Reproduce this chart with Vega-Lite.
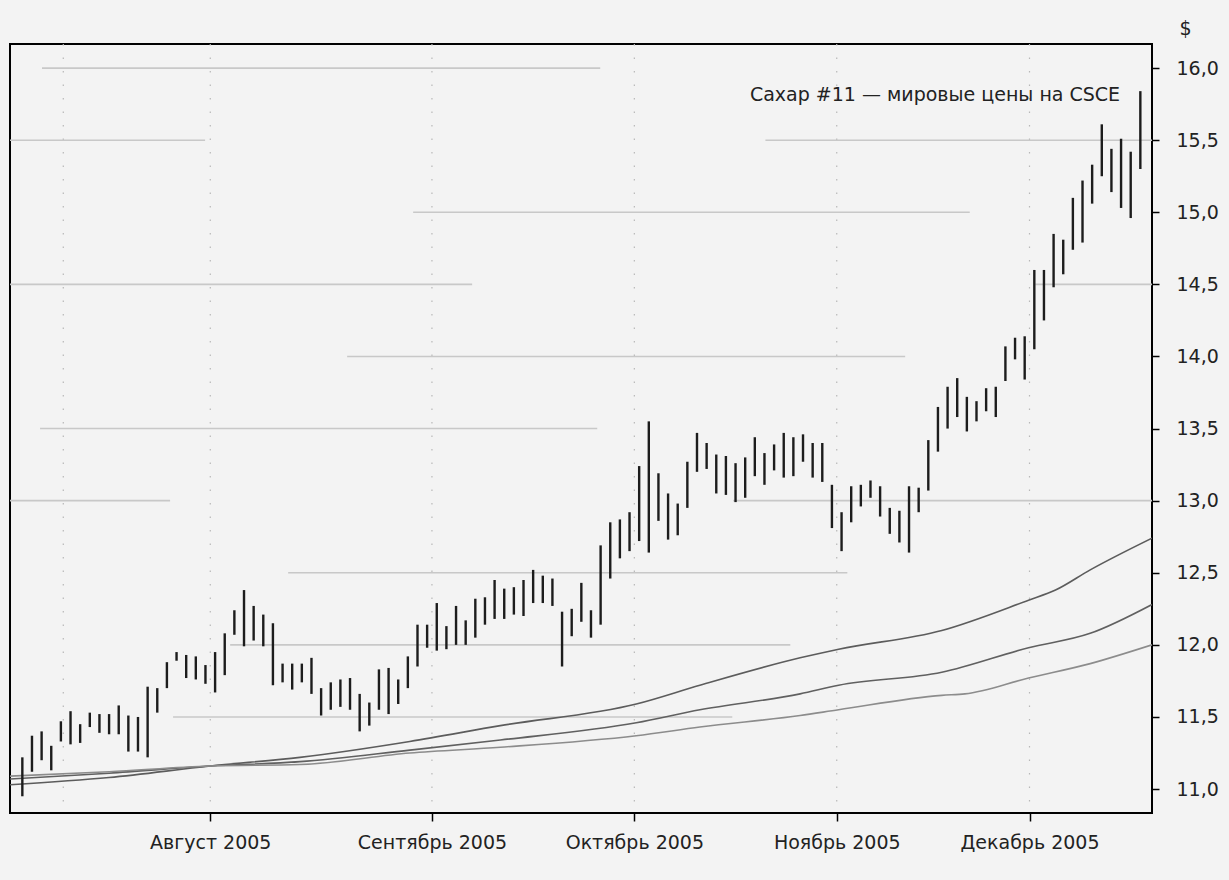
{
  "$schema": "https://vega.github.io/schema/vega-lite/v6.json",
  "width": 1142,
  "height": 769,
  "autosize": "none",
  "padding": {"left": 10, "top": 44, "right": 77, "bottom": 67},
  "background": "#f3f3f3",
  "config": {
    "view": {"stroke": "#000000", "strokeWidth": 2, "fill": "#f3f3f3"},
    "font": "DejaVu Sans"
  },
  "datasets": {
    "bars": [
      {"i":0,"lo":10.95,"hi":11.22},{"i":1,"lo":11.12,"hi":11.37},{"i":2,"lo":11.20,"hi":11.40},{"i":3,"lo":11.13,"hi":11.30},
      {"i":4,"lo":11.33,"hi":11.47},{"i":5,"lo":11.31,"hi":11.54},{"i":6,"lo":11.32,"hi":11.45},{"i":7,"lo":11.43,"hi":11.53},
      {"i":8,"lo":11.39,"hi":11.52},{"i":9,"lo":11.38,"hi":11.52},{"i":10,"lo":11.38,"hi":11.58},{"i":11,"lo":11.26,"hi":11.51},
      {"i":12,"lo":11.26,"hi":11.50},{"i":13,"lo":11.22,"hi":11.71},{"i":14,"lo":11.53,"hi":11.70},{"i":15,"lo":11.70,"hi":11.88},
      {"i":16,"lo":11.89,"hi":11.95},{"i":17,"lo":11.77,"hi":11.93},{"i":18,"lo":11.76,"hi":11.92},{"i":19,"lo":11.73,"hi":11.86},
      {"i":20,"lo":11.67,"hi":11.95},{"i":21,"lo":11.79,"hi":12.08},{"i":22,"lo":12.07,"hi":12.24},{"i":23,"lo":11.99,"hi":12.38},
      {"i":24,"lo":12.03,"hi":12.27},{"i":25,"lo":11.99,"hi":12.21},{"i":26,"lo":11.72,"hi":12.15},{"i":27,"lo":11.74,"hi":11.87},
      {"i":28,"lo":11.69,"hi":11.87},{"i":29,"lo":11.74,"hi":11.87},{"i":30,"lo":11.66,"hi":11.91},{"i":31,"lo":11.51,"hi":11.70},
      {"i":32,"lo":11.55,"hi":11.74},{"i":33,"lo":11.57,"hi":11.76},{"i":34,"lo":11.55,"hi":11.77},{"i":35,"lo":11.40,"hi":11.66},
      {"i":36,"lo":11.44,"hi":11.60},{"i":37,"lo":11.55,"hi":11.83},{"i":38,"lo":11.52,"hi":11.84},{"i":39,"lo":11.59,"hi":11.76},
      {"i":40,"lo":11.70,"hi":11.92},{"i":41,"lo":11.85,"hi":12.14},{"i":42,"lo":11.98,"hi":12.14},{"i":43,"lo":11.96,"hi":12.29},
      {"i":44,"lo":11.97,"hi":12.13},{"i":45,"lo":12.00,"hi":12.27},{"i":46,"lo":12.00,"hi":12.17},{"i":47,"lo":12.05,"hi":12.32},
      {"i":48,"lo":12.14,"hi":12.33},{"i":49,"lo":12.18,"hi":12.45},{"i":50,"lo":12.18,"hi":12.39},{"i":51,"lo":12.21,"hi":12.40},
      {"i":52,"lo":12.20,"hi":12.45},{"i":53,"lo":12.29,"hi":12.52},{"i":54,"lo":12.29,"hi":12.48},{"i":55,"lo":12.27,"hi":12.46},
      {"i":56,"lo":11.85,"hi":12.23},{"i":57,"lo":12.06,"hi":12.25},{"i":58,"lo":12.16,"hi":12.43},{"i":59,"lo":12.05,"hi":12.24},
      {"i":60,"lo":12.14,"hi":12.69},{"i":61,"lo":12.46,"hi":12.85},{"i":62,"lo":12.60,"hi":12.87},{"i":63,"lo":12.65,"hi":12.92},
      {"i":64,"lo":12.72,"hi":13.24},{"i":65,"lo":12.64,"hi":13.55},{"i":66,"lo":12.86,"hi":13.19},{"i":67,"lo":12.73,"hi":13.05},
      {"i":68,"lo":12.76,"hi":12.98},{"i":69,"lo":12.95,"hi":13.27},{"i":70,"lo":13.20,"hi":13.47},{"i":71,"lo":13.22,"hi":13.40},
      {"i":72,"lo":13.05,"hi":13.32},{"i":73,"lo":13.04,"hi":13.31},{"i":74,"lo":12.99,"hi":13.26},{"i":75,"lo":13.02,"hi":13.30},
      {"i":76,"lo":13.17,"hi":13.44},{"i":77,"lo":13.11,"hi":13.33},{"i":78,"lo":13.21,"hi":13.39},{"i":79,"lo":13.16,"hi":13.47},
      {"i":80,"lo":13.17,"hi":13.44},{"i":81,"lo":13.27,"hi":13.46},{"i":82,"lo":13.16,"hi":13.40},{"i":83,"lo":13.13,"hi":13.40},
      {"i":84,"lo":12.81,"hi":13.11},{"i":85,"lo":12.65,"hi":12.92},{"i":86,"lo":12.85,"hi":13.10},{"i":87,"lo":12.96,"hi":13.11},
      {"i":88,"lo":13.02,"hi":13.14},{"i":89,"lo":12.89,"hi":13.10},{"i":90,"lo":12.77,"hi":12.95},{"i":91,"lo":12.71,"hi":12.93},
      {"i":92,"lo":12.64,"hi":13.10},{"i":93,"lo":12.92,"hi":13.09},{"i":94,"lo":13.07,"hi":13.42},{"i":95,"lo":13.34,"hi":13.65},
      {"i":96,"lo":13.50,"hi":13.79},{"i":97,"lo":13.58,"hi":13.85},{"i":98,"lo":13.48,"hi":13.72},{"i":99,"lo":13.55,"hi":13.69},
      {"i":100,"lo":13.62,"hi":13.78},{"i":101,"lo":13.58,"hi":13.79},{"i":102,"lo":13.83,"hi":14.07},{"i":103,"lo":13.98,"hi":14.13},
      {"i":104,"lo":13.84,"hi":14.14},{"i":105,"lo":14.05,"hi":14.60},{"i":106,"lo":14.25,"hi":14.60},{"i":107,"lo":14.48,"hi":14.85},
      {"i":108,"lo":14.57,"hi":14.81},{"i":109,"lo":14.74,"hi":15.10},{"i":110,"lo":14.79,"hi":15.22},{"i":111,"lo":15.06,"hi":15.33},
      {"i":112,"lo":15.25,"hi":15.61},{"i":113,"lo":15.14,"hi":15.44},{"i":114,"lo":15.03,"hi":15.51},{"i":115,"lo":14.96,"hi":15.42},
      {"i":116,"lo":15.30,"hi":15.84}
    ],
    "ma": [
      {"s":"fast","i":-1.28,"v":11.03},{"s":"fast","i":9.0,"v":11.08},{"s":"fast","i":19.5,"v":11.16},{"s":"fast","i":28.8,"v":11.22},
      {"s":"fast","i":40.2,"v":11.33},{"s":"fast","i":49.6,"v":11.44},{"s":"fast","i":63.7,"v":11.59},{"s":"fast","i":70.3,"v":11.72},
      {"s":"fast","i":80.7,"v":11.91},{"s":"fast","i":84.7,"v":11.97},{"s":"fast","i":95.4,"v":12.10},{"s":"fast","i":104.4,"v":12.31},
      {"s":"fast","i":107.2,"v":12.38},{"s":"fast","i":110.8,"v":12.52},{"s":"fast","i":117.21,"v":12.74},
      {"s":"mid","i":-1.28,"v":11.07},{"s":"mid","i":9.0,"v":11.11},{"s":"mid","i":19.5,"v":11.16},{"s":"mid","i":28.8,"v":11.19},
      {"s":"mid","i":40.2,"v":11.27},{"s":"mid","i":49.6,"v":11.34},{"s":"mid","i":63.7,"v":11.46},{"s":"mid","i":70.3,"v":11.55},
      {"s":"mid","i":80.7,"v":11.66},{"s":"mid","i":84.7,"v":11.72},{"s":"mid","i":95.4,"v":11.81},{"s":"mid","i":104.4,"v":11.98},
      {"s":"mid","i":110.8,"v":12.08},{"s":"mid","i":117.21,"v":12.28},
      {"s":"slow","i":-1.28,"v":11.09},{"s":"slow","i":9.0,"v":11.12},{"s":"slow","i":19.5,"v":11.16},{"s":"slow","i":28.8,"v":11.17},
      {"s":"slow","i":40.2,"v":11.25},{"s":"slow","i":49.6,"v":11.29},{"s":"slow","i":63.7,"v":11.37},{"s":"slow","i":70.3,"v":11.43},
      {"s":"slow","i":80.7,"v":11.51},{"s":"slow","i":84.7,"v":11.55},{"s":"slow","i":95.4,"v":11.65},{"s":"slow","i":97.8,"v":11.66},
      {"s":"slow","i":104.4,"v":11.77},{"s":"slow","i":110.8,"v":11.87},{"s":"slow","i":117.21,"v":12.00}
    ],
    "hseg": [
      {"lv":16.0,"a":2.04,"b":59.96},{"lv":15.5,"a":-1.28,"b":18.96},{"lv":15.5,"a":77.1,"b":117.21},
      {"lv":15.0,"a":40.55,"b":98.3},{"lv":14.5,"a":-1.28,"b":46.67},{"lv":14.5,"a":105.1,"b":117.21},
      {"lv":14.0,"a":33.7,"b":91.6},{"lv":13.5,"a":1.84,"b":59.65},{"lv":13.0,"a":-1.28,"b":15.33},
      {"lv":13.0,"a":73.76,"b":117.21},{"lv":12.5,"a":27.58,"b":85.6},{"lv":12.0,"a":21.56,"b":79.68},
      {"lv":11.5,"a":15.64,"b":73.66}
    ],
    "vgrid": [{"g":4.25},{"g":19.5},{"g":42.5},{"g":63.5},{"g":84.5},{"g":104.5}],
    "note": [{"i":113.9,"y":15.81,"t":"Сахар #11 — мировые цены на CSCE"}]
  },
  "layer": [
    {
      "data": {"name": "vgrid"},
      "mark": {"type": "rule", "color": "#b8b8b8", "strokeWidth": 1.2, "strokeDash": [1.5, 12]},
      "encoding": {
        "x": {"field": "g", "type": "quantitative", "title": null,
          "scale": {"domain": [-1.28, 117.21], "nice": false, "zero": false},
          "axis": {
            "values": [19.5, 42.5, 63.5, 84.5, 104.5],
            "labelExpr": "datum.value < 20 ? 'Август 2005' : datum.value < 43 ? 'Сентябрь 2005' : datum.value < 64 ? 'Октябрь 2005' : datum.value < 85 ? 'Ноябрь 2005' : 'Декабрь 2005'",
            "title": null, "grid": false, "domain": false,
            "tickSize": 8, "tickColor": "#000000", "tickWidth": 1.5,
            "labelFontSize": 19, "labelColor": "#222222", "labelPadding": 12, "labelFont": "DejaVu Sans"
          }
        }
      }
    },
    {
      "data": {"name": "hseg"},
      "mark": {"type": "rule", "color": "#c8c8c8", "strokeWidth": 1.6},
      "encoding": {
        "x": {"field": "a", "type": "quantitative", "title": null},
        "x2": {"field": "b"},
        "y": {"field": "lv", "type": "quantitative", "title": "$",
          "scale": {"domain": [10.834, 16.167], "nice": false, "zero": false},
          "axis": {
            "orient": "right",
            "values": [11, 11.5, 12, 12.5, 13, 13.5, 14, 14.5, 15, 15.5, 16],
            "labelExpr": "replace(format(datum.value, '.1f'), '.', ',')",
            "title": "$", "titleAngle": 0, "titleAnchor": "end", "titleX": 33, "titleY": -16,
            "titleAlign": "center", "titleBaseline": "middle", "titleFontSize": 19, "titleFontWeight": "normal",
            "titleColor": "#222222", "titleFont": "DejaVu Sans",
            "grid": false, "domain": false,
            "tickSize": 7, "tickColor": "#000000", "tickWidth": 1.5,
            "labelFontSize": 19, "labelColor": "#222222", "labelPadding": 17, "labelFont": "DejaVu Sans"
          }
        }
      }
    },
    {
      "data": {"name": "ma"},
      "mark": {"type": "line", "strokeWidth": 1.6, "interpolate": "monotone", "clip": true},
      "encoding": {
        "x": {"field": "i", "type": "quantitative", "title": null},
        "y": {"field": "v", "type": "quantitative", "title": "$"},
        "color": {"field": "s", "type": "nominal", "legend": null,
          "scale": {"domain": ["fast", "mid", "slow"], "range": ["#5c5c5c", "#606060", "#8c8c8c"]}}
      }
    },
    {
      "data": {"name": "bars"},
      "mark": {"type": "rule", "color": "#1c1c1c", "strokeWidth": 2.4},
      "encoding": {
        "x": {"field": "i", "type": "quantitative", "title": null},
        "y": {"field": "lo", "type": "quantitative", "title": "$"},
        "y2": {"field": "hi"}
      }
    },
    {
      "data": {"name": "note"},
      "mark": {"type": "text", "align": "right", "baseline": "middle", "fontSize": 19, "color": "#222222", "font": "DejaVu Sans"},
      "encoding": {
        "x": {"field": "i", "type": "quantitative", "title": null},
        "y": {"field": "y", "type": "quantitative", "title": "$"},
        "text": {"field": "t"}
      }
    }
  ]
}
